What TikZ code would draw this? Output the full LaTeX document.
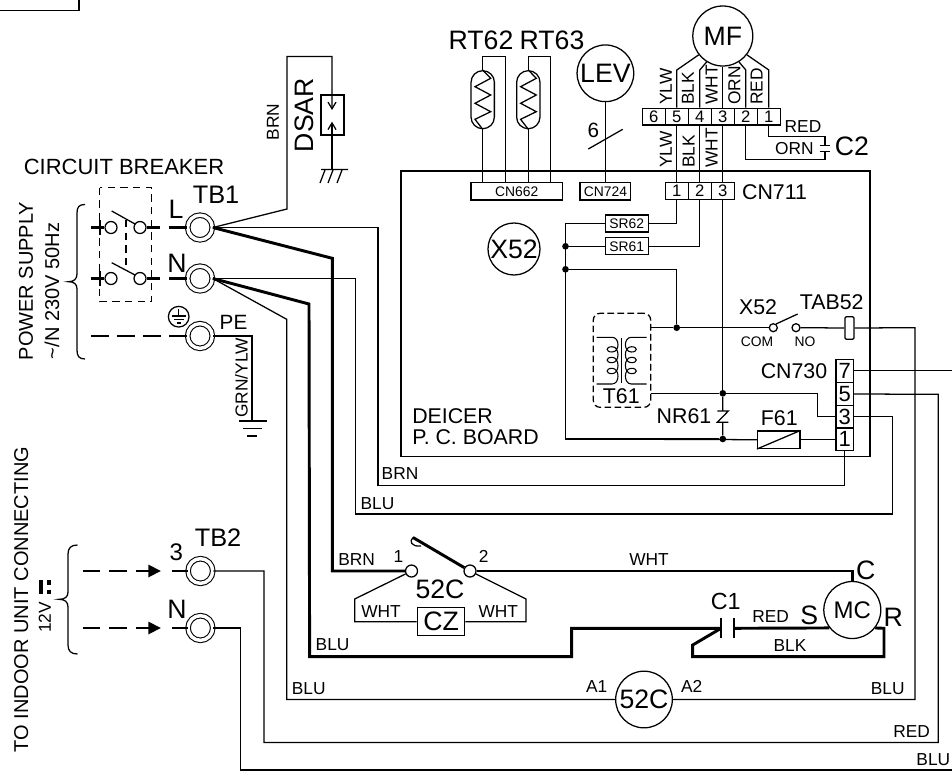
\documentclass[tikz,border=0pt]{standalone}
\usepackage{fontspec}
\setmainfont{Liberation Sans}
\usetikzlibrary{arrows.meta}
\tikzset{
	wire/.style={line width=0.95pt},
	heavywire/.style={line width=2.2pt},
	feedline/.style={line width=2.2pt,dash pattern={on 13.5pt off 6pt}},
	terminal/.style={circle,draw,line width=0.8pt,double,double distance=2.6pt,minimum size=18.5pt,inner sep=0pt},
	contact/.style={circle,draw,fill=white,line width=0.95pt,minimum size=9pt,inner sep=0pt},
	tinycontact/.style={circle,draw,fill=white,line width=0.95pt,minimum size=6pt,inner sep=0pt},
	dot/.style={circle,fill=black,minimum size=5pt,inner sep=0pt},
	device/.style={circle,draw,line width=0.95pt,inner sep=0pt,font=\fontsize{20}{22}\selectfont},
	cellbox/.style={draw,line width=0.95pt,minimum width=17.25pt,minimum height=12.5pt,inner sep=0pt,font=\fontsize{12.5}{14}\selectfont},
	pinbox/.style={draw,line width=0.95pt,minimum width=13pt,minimum height=17pt,inner sep=0pt,font=\fontsize{16.5}{18}\selectfont},
	partbox/.style={draw,line width=0.95pt,minimum height=12.8pt,inner sep=0pt,font=\fontsize{10.4}{12}\selectfont},
	capsule/.style={draw,line width=0.95pt,rounded corners=8.7pt,minimum width=17.5pt,minimum height=43.5pt,inner sep=0pt},
	tagtext/.style={inner sep=0pt,font=\fontsize{13}{15}\selectfont},
	tinytext/.style={inner sep=0pt,font=\fontsize{10.4}{12}\selectfont},
	midtext/.style={inner sep=0pt,font=\fontsize{16}{18}\selectfont},
	bigtext/.style={inner sep=0pt,font=\fontsize{20}{22}\selectfont}
}
\begin{document}
\begin{tikzpicture}[x=0.75pt,y=0.75pt,yscale=-1,xscale=1]
	\useasboundingbox (0,0) rectangle (952,771);
	
	%Corner Box
	\draw [wire] (0,10.5) -- (79,10.5) -- (79,0) ;
	
	%Terminals
	\node (tbL) [terminal] at (200,227.5) {};
	\node (tbN) [terminal] at (200,278.5) {};
	\node (tbPE) [terminal] at (200,336) {};
	\node (tbThree) [terminal] at (200.4,571) {};
	\node (tbNeu) [terminal] at (200.4,628) {};
	
	%Breaker
	\draw [wire,dash pattern={on 5.5pt off 4pt}] (99.7,187.7) rectangle (151.7,301.7) ;
	\draw [wire,dash pattern={on 5.5pt off 4pt}] (126,220) -- (126,270) ;
	\node (brkLa) [contact] at (111,227.5) {};
	\node (brkLb) [contact] at (140,227.5) {};
	\node (brkNa) [contact] at (111,278.5) {};
	\node (brkNb) [contact] at (140,278.5) {};
	\coordinate (srcL) at (91,227.5);
	\coordinate (srcN) at (91,278.5);
	\coordinate (srcPE) at (91,336);
	\coordinate (outL) at (159.5,227.5);
	\coordinate (outN) at (159.5,278.5);
	\coordinate (inL) at (169,227.5);
	\coordinate (inN) at (169,278.5);
	\draw [heavywire] (srcL) -- (brkLa) ;
	\draw [heavywire] (brkLb) -- (outL) ;
	\draw [heavywire] (inL) -- (tbL) ;
	\draw [heavywire] (srcN) -- (brkNa) ;
	\draw [heavywire] (brkNb) -- (outN) ;
	\draw [heavywire] (inN) -- (tbN) ;
	\draw [wire] (100,220) -- (100,235) ;
	\draw [wire] (100,271) -- (100,286) ;
	\draw [wire] (111.7,211) -- (135,224) ;
	\draw [wire] (111.7,262.7) -- (135,275) ;
	%Dashed Feed
	\draw [feedline] (srcPE) -- (tbPE) ;
	%Earth Mark
	\node (earthMark) [circle,draw,line width=0.95pt,minimum size=15.5pt,inner sep=0pt] at (178.7,316.7) {};
	\draw [line width=0.8pt] (178.7,309) -- (178.7,316) (172,316) -- (185.5,316) (174,319.5) -- (183.5,319.5) (176.5,323) -- (181,323) ;
	
	%Braces
	\draw [wire] (85,204.5) .. controls (79,204.5) and (77,207) .. (77,213) -- (77,274) .. controls (77,279) and (74,281.7) .. (68.5,281.7) .. controls (74,281.7) and (77,284) .. (77,289) -- (77,350) .. controls (77,356) and (79,359) .. (85,359) ;
	\draw [wire] (77.5,545) .. controls (71,545) and (68,548) .. (68,554) -- (68,592) .. controls (68,597) and (65,599.3) .. (59,599.3) .. controls (65,599.3) and (68,602) .. (68,607) -- (68,645) .. controls (68,651) and (71,654) .. (77.5,654) ;
	
	%Surge Absorber
	\node (dsarBox) [draw,line width=0.95pt,minimum width=17.25pt,minimum height=30pt,inner sep=0pt] at (332.5,115) {};
	\coordinate (dsarTipA) at (332,110);
	\coordinate (dsarTipB) at (332,121.7);
	\coordinate (gndA) at (332,169);
	\draw [wire,-{Straight Barb[length=5pt,width=6pt]}] (tbL.east) -- (287,209) -- (287,56.5) -- (332,56.5) -- (dsarTipA) ;
	\draw [wire,-{Straight Barb[length=5pt,width=6pt]}] (gndA) -- (dsarTipB) ;
	\draw [wire] (321,169.5) -- (348,169.5) (320,183) -- (325,170) (328,183) -- (333,170) (337,183) -- (342,170) ;
	
	%Earth Wire
	\coordinate (gndB) at (252,421);
	\draw [wire] (tbPE.east) -- (252,336) -- (gndB) ;
	\draw [wire] (239,421) -- (267,421) (243,428.5) -- (262,428.5) (247,436) -- (257,436) ;
	
	%Thermistors
	\node (thA) [capsule] at (482.7,99.7) {};
	\node (thB) [capsule] at (528.3,99.7) {};
	\node (cnThm) [partbox,minimum width=68.5pt,minimum height=13pt] at (516.7,191.3) {CN662};
	\node (cnLev) [partbox,minimum width=38pt,minimum height=13pt] at (605.4,191.3) {CN724};
	\draw [wire] (thA.north) -- (482.7,56.7) -- (505.3,56.7) -- (505.3,182.7) ;
	\draw [wire] (thA.south) -- (482.7,182.7) ;
	\draw [wire] (thB.north) -- (528.3,56.7) -- (550.7,56.7) -- (550.7,182.7) ;
	\draw [wire] (thB.south) -- (528.3,182.7) ;
	\draw [wire] (thA.north) -- (490.7,78.3) -- (475,86.7) -- (490.7,95) -- (475,103.3) -- (490.7,111.7) -- (475,119.3) -- (thA.south) ;
	\draw [wire] (thB.north) -- (536.3,78.3) -- (520.6,86.7) -- (536.3,95) -- (520.6,103.3) -- (536.3,111.7) -- (520.6,119.3) -- (thB.south) ;
	
	%Expansion Valve
	\node (lev) [device,minimum size=42.5pt] at (605.4,73.3) {LEV};
	\draw [wire] (lev) -- (cnLev) ;
	\draw [wire] (588.3,149) -- (622.7,129.3) ;
	
	%Fan Motor and Connectors
	\node (mf) [device,minimum size=45pt] at (722.8,36) {MF};
	\node (mfSix) [cellbox] at (653.8,116.7) {6};
	\node (mfFive) [cellbox] at (676.8,116.7) {5};
	\node (mfFour) [cellbox] at (699.8,116.7) {4};
	\node (mfThree) [cellbox] at (722.8,116.7) {3};
	\node (mfTwo) [cellbox] at (745.8,116.7) {2};
	\node (mfOne) [cellbox] at (768.8,116.7) {1};
	\node (cnOne) [cellbox] at (676.8,191) {1};
	\node (cnTwo) [cellbox] at (699.8,191) {2};
	\node (cnThree) [cellbox] at (722.8,191) {3};
	\draw [wire] (mf.218) -- (676.8,70) -- (mfFive.north) ;
	\draw [wire] (mf.238) -- (699.8,70) -- (mfFour.north) ;
	\draw [wire] (mf.south) -- (mfThree.north) ;
	\draw [wire] (mf.302) -- (745.8,70) -- (mfTwo.north) ;
	\draw [wire] (mf.322) -- (768.8,70) -- (mfOne.north) ;
	\draw [wire] (mfFive) -- (cnOne) ;
	\draw [wire] (mfFour) -- (cnTwo) ;
	\draw [wire] (mfThree) -- (cnThree) ;
	%Capacitor C2
	\coordinate (capTop) at (825,145.7);
	\coordinate (capBot) at (825,151.7);
	\draw [wire] (mfOne.south) -- (768.8,136.7) -- (825,136.7) -- (capTop) ;
	\draw [wire] (mfTwo.south) -- (745.8,159.3) -- (825,159.3) -- (capBot) ;
	\draw [wire] (819.7,145.7) -- (830.3,145.7) (819.7,151.7) -- (830.3,151.7) ;
	
	%Board
	\draw [wire] (401,171) rectangle (870,456.7) ;
	\node (xCoil) [device,minimum size=39pt] at (514,249) {X52};
	\node (srTwo) [partbox,minimum width=32pt] at (626.8,223.5) {SR62};
	\node (srOne) [partbox,minimum width=32pt] at (626.8,246.3) {SR61};
	\node (dotSr) [dot] at (565.5,246.3) {};
	\node (dotPwr) [dot] at (565.5,269.3) {};
	\node (dotTa) [dot] at (676.7,327.7) {};
	\node (dotNa) [dot] at (722.8,393.3) {};
	\node (dotNb) [dot] at (722.8,439) {};
	\draw [wire] (cnOne.south) -- (676.8,223.5) -- (srTwo.east) ;
	\draw [wire] (cnTwo.south) -- (699.8,246.3) -- (srOne.east) ;
	\draw [wire] (cnThree.south) -- (dotNa) ;
	\draw [wire] (srTwo.west) -- (565.5,223.5) -- (565.5,439) -- (dotNb) ;
	\draw [wire] (srOne.west) -- (dotSr) ;
	\draw [wire] (dotPwr) -- (676.7,269.3) -- (dotTa) ;
	
	%Transformer
	\node (trans) [draw,line width=0.95pt,dash pattern={on 5pt off 2.5pt},rounded corners=5pt,minimum width=43pt,minimum height=70.5pt,inner sep=0pt] at (622,360.3) {};
	\draw [line width=0.8pt] (596.7,337.3) -- (612,337.3) .. controls (620,337.3) and (620,352) .. (612,352) .. controls (605.5,352) and (605.5,346.7) .. (612,346.7) .. controls (620,346.7) and (620,362.7) .. (612,362.7) .. controls (605.5,362.7) and (605.5,357.3) .. (612,357.3) .. controls (620,357.3) and (620,373.7) .. (612,373.7) .. controls (605.5,373.7) and (605.5,368.3) .. (612,368.3) .. controls (620,368.3) and (620,384) .. (612,384) -- (596.7,384) ;
	\draw [line width=0.8pt] (646.7,337.3) -- (631.4,337.3) .. controls (623.4,337.3) and (623.4,352) .. (631.4,352) .. controls (637.9,352) and (637.9,346.7) .. (631.4,346.7) .. controls (623.4,346.7) and (623.4,362.7) .. (631.4,362.7) .. controls (637.9,362.7) and (637.9,357.3) .. (631.4,357.3) .. controls (623.4,357.3) and (623.4,373.7) .. (631.4,373.7) .. controls (637.9,373.7) and (637.9,368.3) .. (631.4,368.3) .. controls (623.4,368.3) and (623.4,384) .. (631.4,384) -- (646.7,384) ;
	\draw [wire] (621.7,338) -- (621.7,383.3) ;
	
	%Relay Contact and Tab
	\node (relA) [tinycontact] at (773.3,327.7) {};
	\node (relB) [tinycontact] at (796,327.7) {};
	\node (tabBox) [draw,line width=0.95pt,rounded corners=1pt,minimum width=6.75pt,minimum height=17pt,inner sep=0pt] at (849.5,328) {};
	\draw [wire] (776,324) -- (797.7,314) ;
	\draw [wire] (650.7,327.7) -- (dotTa) -- (relA) ;
	\draw [wire] (relB) -- (tabBox) ;
	
	%CN730
	\node (pinSeven) [pinbox] at (844.7,370.8) {7};
	\node (pinFive) [pinbox] at (844.7,394) {5};
	\node (pinThree) [pinbox] at (844.7,416.8) {3};
	\node (pinOne) [pinbox] at (844.7,439.3) {1};
	
	%NR61 and F61
	\node (fuse) [draw,line width=0.95pt,minimum width=31.8pt,minimum height=13pt,inner sep=0pt] at (778.8,439.7) {};
	\draw [wire] (650.7,393.3) -- (dotNa) -- (817.7,393.3) -- (817.7,416.8) -- (pinThree.west) ;
	\draw [wire] (dotNa) -- (722.8,411) (717.3,411) -- (728.3,411) -- (717.3,422.3) -- (728.3,422.3) (722.8,422.3) -- (dotNb) ;
	\draw [wire] (565.5,439) -- (fuse.west) ;
	\draw [wire] (fuse.east) -- (pinOne.west |- fuse.east) ;
	\draw [wire] (fuse.south west) -- (fuse.north east) ;
	
	%Wires Leaving the Board
	\draw [wire] (tbL.east) -- (378,227.5) -- (378,485.3) -- (844.7,485.3) -- (pinOne.south) ;
	\draw [wire] (tbN.east) -- (355.4,278.5) -- (355.4,514) -- (892.3,514) -- (892.3,416.8) -- (pinThree.east) ;
	\draw [wire] (pinSeven.east) -- (952,370.8) ;
	\draw [wire] (pinFive.east) -- (938.3,394.3) -- (938.3,742.5) -- (264,742.5) -- (264,571) -- (tbThree.east) ;
	\draw [wire] (tbNeu.east) -- (240.7,628) -- (240.7,770) -- (952,770) ;
	
	%Contactor Coil
	\node (coilC) [device,minimum size=42.5pt] at (644,699.5) {52C};
	\draw [wire] (tbN.east) -- (286.7,319.3) -- (286.7,699.5) -- (coilC.west) ;
	\draw [wire] (coilC.east) -- (915,699.5) -- (915,327.7) -- (tabBox.east) ;
	
	%Contactor Contact
	\node (ctA) [contact] at (411.5,571) {};
	\node (ctB) [contact] at (470,571) {};
	\node (czBox) [draw,line width=0.95pt,minimum width=35.6pt,minimum height=21.2pt,inner sep=0pt,font=\fontsize{20}{22}\selectfont] at (441.1,621.7) {CZ};
	\draw [heavywire] (tbL.east) -- (332.3,258.3) -- (332.3,571) -- (ctA) ;
	\draw [heavywire] (ctB) -- (413,537.5) ;
	\draw [wire] (413,537.5) .. controls (409,541) and (411,547) .. (421,546) ;
	\draw [wire] (ctA) -- (354.7,599) -- (354.7,621.7) -- (czBox) ;
	\draw [wire] (ctB) -- (526,599) -- (526,621.7) -- (czBox) ;
	
	%Compressor
	\node (mc) [device,minimum size=42.75pt,font=\fontsize{18}{20}\selectfont] at (852.3,610) {MC};
	\coordinate (capL) at (721,628.3);
	\coordinate (capR) at (734,628.3);
	\draw [heavywire] (ctB) -- (852.3,571) -- (mc.north) ;
	\draw [heavywire] (tbN.east) -- (309,304) -- (309.6,656.7) -- (571.7,656.7) -- (571.7,628.3) -- (capL) ;
	\draw [heavywire] (capR) -- (mc.218) ;
	\draw [heavywire] (mc.322) -- (884,628.3) -- (884,656.7) -- (692.7,656.7) -- (692.7,645) -- (capL) ;
	\draw [wire] (721,618.3) -- (721,638.3) (734,618.3) -- (734,638.3) ;
	
	%Indoor Feed
	\coordinate (feedA) at (82.6,571);
	\coordinate (feedB) at (82.6,628);
	\coordinate (tipA) at (161,571);
	\coordinate (tipB) at (161,628);
	\coordinate (inA) at (171.5,571);
	\coordinate (inB) at (171.5,628);
	\draw [feedline,dash pattern={on 13pt off 7pt},-{Triangle[length=9.5pt,width=9pt]}] (feedA) -- (tipA) ;
	\draw [feedline,dash pattern={on 13pt off 7pt},-{Triangle[length=9.5pt,width=9pt]}] (feedB) -- (tipB) ;
	\draw [heavywire] (inA) -- (tbThree) ;
	\draw [heavywire] (inB) -- (tbNeu) ;
	\draw [line width=3pt] (40.5,580) -- (40.5,594.3) ;
	\draw [line width=3pt] (49.3,580) -- (49.3,585) (49.3,589.5) -- (49.3,594.3) ;
	
	% Text Node
	\node (txtBreaker) [inner sep=0pt,font=\fontsize{16.5}{18}\selectfont] at (124,167) {CIRCUIT BREAKER};
	\node (txtSupply) [rotate=90,inner sep=0pt,font=\fontsize{15}{17}\selectfont] at (26,281) {POWER SUPPLY};
	\node (txtVolt) [rotate=90,inner sep=0pt,font=\fontsize{15}{17}\selectfont] at (52,291) {\textasciitilde/N 230V 50Hz};
	\node (txtIndoor) [rotate=90,inner sep=0pt,font=\fontsize{15}{17}\selectfont] at (21.3,599.5) {TO INDOOR UNIT CONNECTING};
	\node (txtTwelve) [rotate=90,tagtext] at (44.8,617.5) {12V};
	\node (txtL) [bigtext] at (176,209) {L};
	\node (txtN) [bigtext] at (177,263) {N};
	\node (txtTbOne) [bigtext,font=\fontsize{19}{21}\selectfont] at (216,195) {TB1};
	\node (txtPE) [inner sep=0pt,font=\fontsize{15.5}{17}\selectfont] at (233.5,322.5) {PE};
	\node (txtGrn) [rotate=90,tagtext] at (241.5,378) {GRN/YLW};
	\node (txtBrnA) [rotate=90,tagtext] at (273,122) {BRN};
	\node (txtDsar) [rotate=90,bigtext] at (304,115) {DSAR};
	\node (txtRtA) [bigtext] at (481,40.7) {RT62};
	\node (txtRtB) [bigtext] at (552,40.7) {RT63};
	\node (txtSix) [bigtext,font=\fontsize{15.5}{17}\selectfont] at (593.3,130) {6};
	\node (txtUpYlw) [rotate=90,anchor=west,tagtext] at (666,105) {YLW};
	\node (txtUpBlk) [rotate=90,anchor=west,tagtext] at (688,105) {BLK};
	\node (txtUpWht) [rotate=90,anchor=west,tagtext] at (711.6,105) {WHT};
	\node (txtUpOrn) [rotate=90,anchor=west,tagtext] at (734.5,105) {ORN};
	\node (txtUpRed) [rotate=90,anchor=west,tagtext] at (756.7,105) {RED};
	\node (txtLoYlw) [rotate=90,anchor=west,tagtext] at (666,168) {YLW};
	\node (txtLoBlk) [rotate=90,anchor=west,tagtext] at (688.7,168) {BLK};
	\node (txtLoWht) [rotate=90,anchor=west,tagtext] at (711.6,168) {WHT};
	\node (txtRedA) [tagtext] at (803,126.7) {RED};
	\node (txtOrn) [tagtext] at (794.4,149) {ORN};
	\node (txtCtwo) [bigtext] at (852,146.7) {C2};
	\node (txtCnOne) [midtext] at (774.5,192) {CN711};
	\node (txtXr) [midtext] at (758,306.7) {X52};
	\node (txtTab) [midtext] at (831.7,302) {TAB52};
	\node (txtCom) [tinytext] at (757,341.7) {COM};
	\node (txtNo) [tinytext] at (805,341.7) {NO};
	\node (txtCnSeven) [midtext] at (794,370.7) {CN730};
	\node (txtTsix) [midtext] at (621.3,395.7) {T61};
	\node (txtNr) [midtext] at (684,415.7) {NR61};
	\node (txtFuse) [midtext] at (779.3,417.7) {F61};
	\node (txtDeicer) [midtext,anchor=west] at (412,416) {DEICER};
	\node (txtBoard) [midtext,anchor=west] at (412,437) {P. C. BOARD};
	\node (txtBrnB) [tagtext] at (400,474) {BRN};
	\node (txtBluA) [tagtext] at (377.5,504) {BLU};
	\node (txtBrnC) [tagtext] at (356.6,559.3) {BRN};
	\node (txtOneC) [tagtext] at (398.4,556.7) {1};
	\node (txtTwoC) [tagtext] at (483.8,556.7) {2};
	\node (txtWhtMain) [tagtext] at (649,560) {WHT};
	\node (txtContact) [bigtext] at (440,589.3) {52C};
	\node (txtWhtA) [tagtext] at (381,611.7) {WHT};
	\node (txtWhtB) [tagtext] at (498.3,611.7) {WHT};
	\node (txtBluB) [tagtext] at (332.6,644.3) {BLU};
	\node (txtBluC) [tagtext] at (308.7,689) {BLU};
	\node (txtThree) [inner sep=0pt,font=\fontsize{18}{20}\selectfont] at (176.3,552.7) {3};
	\node (txtNeu) [bigtext] at (177,609) {N};
	\node (txtTbTwo) [bigtext,font=\fontsize{19}{21}\selectfont] at (218,537.7) {TB2};
	\node (txtCone) [inner sep=0pt,font=\fontsize{17.5}{19}\selectfont] at (725.7,601) {C1};
	\node (txtRedB) [tagtext] at (770.7,616.7) {RED};
	\node (txtS) [bigtext] at (809.3,615) {S};
	\node (txtR) [bigtext] at (893.3,617.3) {R};
	\node (txtC) [bigtext] at (865.7,570.7) {C};
	\node (txtBlk) [tagtext] at (790,645.7) {BLK};
	\node (txtAone) [tagtext] at (596.7,686.7) {A1};
	\node (txtAtwo) [tagtext] at (691.7,686.7) {A2};
	\node (txtBluD) [tagtext] at (887.7,688.7) {BLU};
	\node (txtRedC) [tagtext] at (911.7,731.7) {RED};
	\node (txtBluE) [tagtext] at (933.3,760) {BLU};
	
\end{tikzpicture}
\end{document}
